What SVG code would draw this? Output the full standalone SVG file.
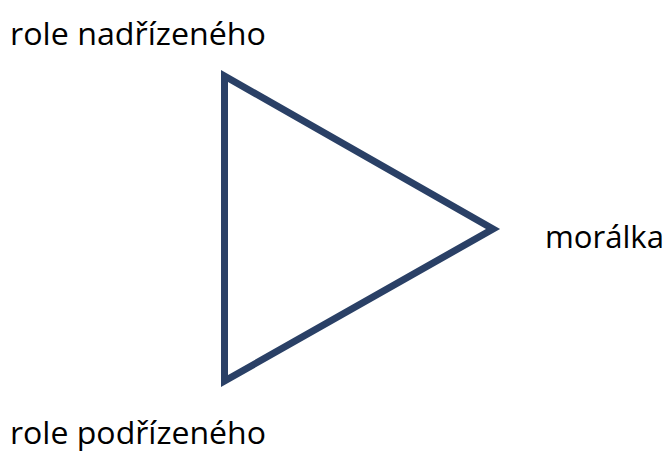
<svg xmlns="http://www.w3.org/2000/svg" width="666" height="454" viewBox="0 0 666 454">
<style>
.t{font-family:"Open Sans","Liberation Sans",sans-serif;font-size:31px;fill:#000}
.tri{fill:none;stroke:#2A4066;stroke-width:7;stroke-linejoin:miter}
</style>
<rect width="666" height="454" fill="#fff"/>
<g id="triangle"><polygon class="tri" points="224.5,76 224.5,381 493,229"/></g>
<g id="connectors"/>
<g id="n-nadrizeny"><text class="t" x="10" y="45" textLength="256" lengthAdjust="spacingAndGlyphs">role nadřízeného</text></g>
<g id="n-moralka"><text class="t" x="545" y="248" textLength="119" lengthAdjust="spacingAndGlyphs">morálka</text></g>
<g id="n-podrizeny"><text class="t" x="10" y="444" textLength="256" lengthAdjust="spacingAndGlyphs">role podřízeného</text></g>
</svg>
